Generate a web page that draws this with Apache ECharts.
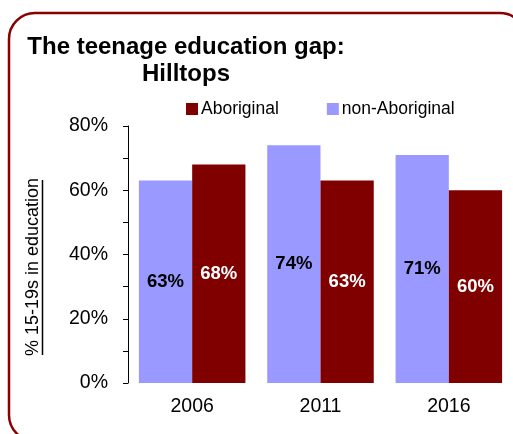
<!DOCTYPE html>
<html>
<head>
<meta charset="utf-8">
<script src="https://cdn.jsdelivr.net/npm/echarts@6/dist/echarts.min.js"></script>
<style>
html,body{margin:0;padding:0;background:#fff;}
#chart{width:513px;height:434px;}
</style>
</head>
<body>
<div id="chart"></div>
<script>
var categories = ['2006', '2011', '2016'];
var nonAboriginal = [63, 74, 71];
var aboriginal = [68, 63, 60];
var yTicks = [0, 20, 40, 60, 80];

var FONT = 'Liberation Sans, Arial, sans-serif';
var chart = echarts.init(document.getElementById('chart'));
chart.setOption({
  animation: false,
  backgroundColor: '#fff',
  title: {
    text: 'The teenage education gap:\nHilltops',
    left: 181,
    top: 29,
    textAlign: 'center',
    textStyle: { fontFamily: FONT, fontSize: 24, fontWeight: 'bold', color: '#000', lineHeight: 27 }
  },
  legend: {
    data: ['Aboriginal', 'non-Aboriginal'],
    left: 181,
    top: 95,
    itemWidth: 12,
    itemHeight: 12,
    itemGap: 48,
    icon: 'rect',
    textStyle: { fontFamily: FONT, fontSize: 17.5, color: '#000', padding: [0, 0, 0, -2] }
  },
  grid: { left: 128, right: 0, top: 126, bottom: 51, containLabel: false },
  xAxis: {
    type: 'category',
    data: categories,
    axisLine: { show: false },
    axisTick: { show: false },
    axisLabel: { fontFamily: FONT, fontSize: 19.5, color: '#000', margin: 14 }
  },
  yAxis: {
    type: 'value',
    min: yTicks[0],
    max: yTicks[yTicks.length - 1],
    interval: 20,
    axisLine: { show: true, lineStyle: { color: '#000', width: 1 } },
    axisTick: { show: true, length: 5, lineStyle: { color: '#000' } },
    minorTick: { show: true, splitNumber: 2, length: 5, lineStyle: { color: '#000' } },
    splitLine: { show: false },
    axisLabel: { fontFamily: FONT, fontSize: 19.5, color: '#000', margin: 20, formatter: '{value}%' }
  },
  series: [
    {
      name: 'non-Aboriginal',
      type: 'bar',
      data: nonAboriginal,
      barGap: '0%',
      barCategoryGap: '17%',
      itemStyle: { color: '#9999FF' },
      label: { show: true, position: 'inside', formatter: '{c}%', fontFamily: FONT, fontSize: 18.5, fontWeight: 'bold', color: '#000' }
    },
    {
      name: 'Aboriginal',
      type: 'bar',
      data: aboriginal,
      barGap: '0%',
      barCategoryGap: '17%',
      itemStyle: { color: '#800000' },
      label: { show: true, position: 'inside', formatter: '{c}%', fontFamily: FONT, fontSize: 18.5, fontWeight: 'bold', color: '#fff' }
    }
  ],
  graphic: [
    {
      type: 'rect',
      shape: { x: 9, y: 13, width: 517, height: 428, r: 26 },
      style: { fill: 'none', stroke: '#8B0000', lineWidth: 2.5 },
      z: 100
    },
    {
      type: 'text',
      x: 33,
      y: 267,
      rotation: Math.PI / 2,
      style: { text: '% 15-19s in education', fontFamily: FONT, fontSize: 18, fill: '#000', align: 'center', verticalAlign: 'middle' }
    },
    {
      type: 'line',
      shape: { x1: 42.5, y1: 180, x2: 42.5, y2: 355 },
      style: { stroke: '#000', lineWidth: 1.5 }
    }
  ]
});
</script>
</body>
</html>
